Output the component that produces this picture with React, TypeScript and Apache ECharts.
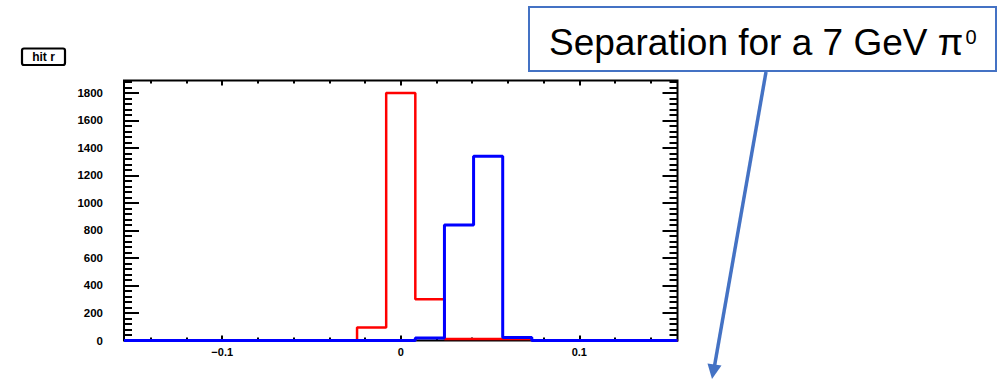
import React, { useEffect, useRef } from "react";
import * as echarts from "echarts";

// Histogram range and binning (19 bins)
const xRange = [-0.155, 0.155];
const redCounts = [0, 0, 0, 0, 0, 0, 0, 0, 95, 1800, 300, 10, 10, 10, 0, 0, 0, 0, 0];
const blueCounts = [0, 0, 0, 0, 0, 0, 0, 0, 0, 0, 18, 840, 1340, 22, 0, 0, 0, 0, 0];
const yMax = 1890;
const yMajorTicks = [0, 200, 400, 600, 800, 1000, 1200, 1400, 1600, 1800];
const yMinorTicks = [
  0, 40, 80, 120, 160, 200, 240, 280, 320, 360, 400, 440, 480, 520, 560, 600, 640, 680, 720, 760,
  800, 840, 880, 920, 960, 1000, 1040, 1080, 1120, 1160, 1200, 1240, 1280, 1320, 1360, 1400, 1440,
  1480, 1520, 1560, 1600, 1640, 1680, 1720, 1760, 1800, 1840, 1880,
];
const xMajorTicks = [-0.1, 0, 0.1];
const xMinorTicks = [-0.14, -0.12, -0.1, -0.08, -0.06, -0.04, -0.02, 0, 0.02, 0.04, 0.06, 0.08, 0.1, 0.12, 0.14];
const histTitle = "hit r";
const noteText = "Separation for a 7 GeV π";
const noteSup = "0";

function stepData(counts: number[]) {
  const n = counts.length;
  const w = (xRange[1] - xRange[0]) / n;
  const pts: number[][] = counts.map((v, i) => [xRange[0] + i * w, v]);
  pts.push([xRange[1], counts[n - 1]]);
  return pts;
}

const FONT = "Liberation Sans";

export default function App() {
  const ref = useRef<HTMLDivElement>(null);
  useEffect(() => {
    if (!ref.current) return;
    const chart = echarts.init(ref.current, null, { renderer: "svg" });
    const xBase = {
      type: "value" as const,
      min: xRange[0],
      max: xRange[1],
      axisLine: { show: false, onZero: false },
      splitLine: { show: false },
    };
    const yBase = {
      type: "value" as const,
      min: 0,
      max: yMax,
      axisLine: { show: false, onZero: false },
      splitLine: { show: false },
    };
    const fmtX = (v: number) => (Math.abs(v) < 1e-9 ? "0" : v.toFixed(1).replace("-", "\u2212"));
    const tickStyle = { color: "#000", width: 2 };
    chart.setOption({
      animation: false,
      backgroundColor: "#ffffff",
      grid: {
        left: 124,
        right: 321.5,
        top: 80.5,
        bottom: 40.5,
        show: true,
        borderColor: "#000",
        borderWidth: 2,
        backgroundColor: "transparent",
        z: 0,
      },
      xAxis: [
        {
          ...xBase,
          position: "bottom",
          axisTick: { show: true, inside: true, length: 5, customValues: xMajorTicks, lineStyle: tickStyle },
          axisLabel: {
            show: true,
            customValues: xMajorTicks,
            formatter: fmtX,
            margin: 6,
            color: "#000",
            fontFamily: FONT,
            fontWeight: "bold",
            fontSize: 11,
          },
        },
        {
          ...xBase,
          position: "bottom",
          axisTick: { show: true, inside: true, length: 3, customValues: xMinorTicks, lineStyle: tickStyle },
          axisLabel: { show: false },
        },
        {
          ...xBase,
          position: "top",
          axisTick: { show: true, inside: true, length: 5, customValues: xMajorTicks, lineStyle: tickStyle },
          axisLabel: { show: false },
        },
        {
          ...xBase,
          position: "top",
          axisTick: { show: true, inside: true, length: 3, customValues: xMinorTicks, lineStyle: tickStyle },
          axisLabel: { show: false },
        },
      ],
      yAxis: [
        {
          ...yBase,
          position: "left",
          axisTick: { show: true, inside: true, length: 15, customValues: yMajorTicks, lineStyle: tickStyle },
          axisLabel: {
            show: true,
            customValues: yMajorTicks,
            formatter: (v: number) => String(v),
            margin: 21,
            color: "#000",
            fontFamily: FONT,
            fontWeight: "bold",
            fontSize: 11.5,
          },
        },
        {
          ...yBase,
          position: "left",
          axisTick: { show: true, inside: true, length: 8, customValues: yMinorTicks, lineStyle: tickStyle },
          axisLabel: { show: false },
        },
        {
          ...yBase,
          position: "right",
          axisTick: { show: true, inside: true, length: 15, customValues: yMajorTicks, lineStyle: tickStyle },
          axisLabel: { show: false },
        },
        {
          ...yBase,
          position: "right",
          axisTick: { show: true, inside: true, length: 8, customValues: yMinorTicks, lineStyle: tickStyle },
          axisLabel: { show: false },
        },
      ],
      series: [
        {
          type: "line",
          step: "end",
          data: stepData(redCounts),
          xAxisIndex: 0,
          yAxisIndex: 0,
          showSymbol: false,
          symbol: "none",
          lineStyle: { color: "#ff0000", width: 2.5 },
          z: 3,
          silent: true,
        },
        {
          type: "line",
          step: "end",
          data: stepData(blueCounts),
          xAxisIndex: 0,
          yAxisIndex: 0,
          showSymbol: false,
          symbol: "none",
          lineStyle: { color: "#0000ff", width: 3 },
          z: 4,
          silent: true,
        },
      ],
      graphic: [
        {
          type: "rect",
          shape: { x: 22, y: 48.5, width: 43, height: 16.5, r: 2 },
          style: { fill: "#fff", stroke: "#000", lineWidth: 2.2 },
        },
        {
          type: "text",
          x: 43.5,
          y: 57,
          style: {
            text: histTitle,
            fill: "#000",
            font: `bold 12px "${FONT}"`,
            textAlign: "center",
            textVerticalAlign: "middle",
          },
        },
        {
          type: "rect",
          shape: { x: 529, y: 7, width: 467, height: 64 },
          style: { fill: "#fff", stroke: "#4472c4", lineWidth: 2 },
          z: 10,
        },
        {
          type: "text",
          x: 549,
          y: 42,
          z: 11,
          style: {
            text: noteText,
            fill: "#000",
            font: `37px "${FONT}"`,
            textAlign: "left",
            textVerticalAlign: "middle",
          },
        },
        {
          type: "text",
          x: 965.5,
          y: 37,
          z: 11,
          style: {
            text: noteSup,
            fill: "#000",
            font: `20px "${FONT}"`,
            textAlign: "left",
            textVerticalAlign: "middle",
          },
        },
        {
          type: "line",
          shape: { x1: 766, y1: 72, x2: 714.5, y2: 366 },
          style: { stroke: "#4472c4", lineWidth: 3.5 },
          z: 10,
        },
        {
          type: "polygon",
          shape: {
            points: [
              [712, 379],
              [721.5, 365.5],
              [707.5, 363.5],
            ],
          },
          style: { fill: "#4472c4" },
          z: 10,
        },
      ],
    });
    return () => chart.dispose();
  }, []);
  return (
    <div
      ref={ref}
      style={{ position: "fixed", left: 0, top: 0, width: 999, height: 381, background: "#fff" }}
    />
  );
}
